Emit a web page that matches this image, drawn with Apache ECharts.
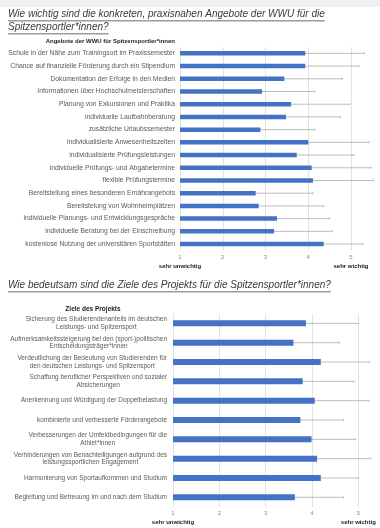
<!DOCTYPE html>
<html><head><meta charset="utf-8">
<script src="https://cdn.jsdelivr.net/npm/echarts@6/dist/echarts.min.js"></script>
<style>html,body{margin:0;padding:0;background:#fff}#c{width:380px;height:528px}</style>
</head><body><div id="c"></div>
<script>
// ---------- data ----------
const title1Lines = ['Wie wichtig sind die konkreten, praxisnahen Angebote der WWU für die', 'Spitzensportler*innen?'];
const header1 = 'Angebote der WWU für Spitzensportler*innen';
const categories1 = [
  'Schule in der Nähe zum Trainingsort im Praxissemester',
  'Chance auf finanzielle Förderung durch ein Stipendium',
  'Dokumentation der Erfolge in den Medien',
  'Informationen über Hochschulmeisterschaften',
  'Planung von Exkursionen und Praktika',
  'individuelle Laufbahnberatung',
  'zusätzliche Urlaubssemester',
  'individualisierte Anwesenheitszeiten',
  'individualisierte Prüfungsleistungen',
  'individuelle Prüfungs- und Abgabetermine',
  'flexible Prüfungstermine',
  'Bereitstellung eines besonderen Ernährangebots',
  'Bereitstelung von Wohnheimplätzen',
  'individuelle Planungs- und Entwicklungsgespräche',
  'individuelle Beratung bei der Einschreibung',
  'kostenlose Nutzung der universitären Sportstätten'
];
const means1 = [3.93, 3.93, 3.44, 2.92, 3.60, 3.48, 2.88, 4.00, 3.73, 4.08, 4.11, 2.77, 2.84, 3.27, 3.20, 4.36];
const sds1   = [1.38, 1.26, 1.36, 1.23, 1.37, 1.27, 1.27, 1.42, 1.34, 1.40, 1.42, 1.34, 1.52, 1.23, 1.37, 0.92];

const title2 = 'Wie bedeutsam sind die Ziele des Projekts für die Spitzensportler*innen?';
const header2 = 'Ziele des Projekts';
const categories2 = [
  'Sicherung des Studierendenanteils im deutschen\nLeistungs- und Spitzensport',
  'Aufmerksamkeitssteigerung bei den (sport-)politischen\nEntscheidungsträger*innen',
  'Verdeutlichung der Bedeutung von Studierenden für\nden deutschen Leistungs- und Spitzensport',
  'Schaffung beruflicher Perspektiven und sozialer\nAbsicherungen',
  'Anerkennung und Würdigung der Doppelbelastung',
  'kombinierte und verbesserte Förderangebote',
  'Verbesserungen der Umfeldbedingungen für die\nAthlet*innen',
  'Verhinderungen von Benachteiligungen aufgrund des\nleistungssportlichen Engagement',
  'Harmonierung von Sportaufkommen und Studium',
  'Begleitung und Betreuung im und nach dem Studium'
];
const means2 = [3.87, 3.60, 4.19, 3.80, 4.06, 3.75, 3.99, 4.11, 4.19, 3.63];
const sds2   = [1.13, 0.99, 1.05, 1.11, 1.17, 0.93, 0.95, 1.16, 0.81, 1.05];

const xMin = 1, xMax = 5, xInterval = 1;
const xEndLabels = {1: 'sehr unwichtig', 5: 'sehr wichtig'};

// ---------- helpers ----------
const FONT = '"Liberation Sans", Arial, sans-serif';
const cv = document.createElement('canvas').getContext('2d');
function measure(t, fs, style) { cv.font = (style || '') + ' ' + fs + 'px ' + FONT; return cv.measureText(t).width; }
const titleFs = 10 * 317 / measure(title1Lines[0], 10, 'italic');
const titleColor = '#3a3a3a';

function titleGraphic(text, x, y) {
  const w = measure(text, titleFs, 'italic');
  return [
    {type: 'text', left: x, top: y - titleFs * 0.6, style: {text: text, font: 'italic ' + titleFs + 'px ' + FONT, fill: titleColor}},
    {type: 'rect', shape: {x: x, y: y + titleFs * 0.55, width: w, height: 0.8}, style: {fill: titleColor}}
  ];
}

function xAxisCfg(gridIndex) {
  return {
    type: 'value', gridIndex: gridIndex, min: xMin, max: xMax, interval: xInterval,
    axisLine: {show: false}, axisTick: {show: false},
    splitLine: {show: true, lineStyle: {color: '#dcdcdc', width: 0.8}},
    axisLabel: {
      margin: 2,
      formatter: function (v) { let s = '{n|' + v + '}'; if (xEndLabels[v]) s += '\n{d|' + xEndLabels[v] + '}'; return s; },
      rich: {
        n: {fontSize: 6, color: '#8a8a8a', lineHeight: 9, fontFamily: FONT},
        d: {fontSize: 6, color: '#222', lineHeight: 9, fontWeight: 'bold', fontFamily: FONT}
      }
    }
  };
}

function errSeries(idx, means, sds, capH) {
  return {
    type: 'custom', xAxisIndex: idx, yAxisIndex: idx, z: 1, silent: true, clip: false,
    data: means.map((m, i) => [m, sds[i], i]),
    encode: {x: 0, y: 2},
    renderItem: function (params, api) {
      const m = api.value(0), s = api.value(1), c = api.value(2);
      const p1 = api.coord([m - s, c]), p2 = api.coord([m + s, c]);
      const st = {stroke: '#b4b4b4', lineWidth: 0.9};
      return {type: 'group', children: [
        {type: 'line', shape: {x1: p1[0], y1: p1[1], x2: p2[0], y2: p2[1]}, style: st},
        {type: 'line', shape: {x1: p2[0], y1: p2[1] - capH, x2: p2[0], y2: p2[1] + capH}, style: st}
      ]};
    }
  };
}

const chart = echarts.init(document.getElementById('c'), null, {renderer: 'canvas'});
chart.setOption({
  backgroundColor: '#ffffff',
  animation: false,
  grid: [
    {left: 180, right: 29, top: 47, height: 203.4},
    {left: 173, right: 21.7, top: 313.7, height: 193.3}
  ],
  xAxis: [xAxisCfg(0), xAxisCfg(1)],
  yAxis: [
    {type: 'category', gridIndex: 0, data: categories1, inverse: true,
      axisLine: {show: false}, axisTick: {show: false},
      axisLabel: {margin: 5, fontSize: 6.75, color: '#5a5a5a', fontFamily: FONT, interval: 0}},
    {type: 'category', gridIndex: 1, data: categories2, inverse: true,
      axisLine: {show: false}, axisTick: {show: false},
      axisLabel: {margin: 6, align: 'right', interval: 0,
        formatter: function (v) { return v.split('\n').map(l => '{c|' + l + '}').join('\n'); },
        rich: {c: {align: 'center', fontSize: 6.5, lineHeight: 7.7, color: '#5a5a5a', fontFamily: FONT}}}}
  ],
  series: [
    {type: 'bar', xAxisIndex: 0, yAxisIndex: 0, data: means1, barWidth: 4.5, z: 2,
      itemStyle: {color: '#4472C4'}},
    errSeries(0, means1, sds1, 1),
    {type: 'bar', xAxisIndex: 1, yAxisIndex: 1, data: means2, barWidth: 6, z: 2,
      itemStyle: {color: '#4472C4'}},
    errSeries(1, means2, sds2, 1)
  ],
  graphic: [
    {type: 'rect', shape: {x: 0, y: 0, width: 380, height: 7}, style: {fill: '#efefef'}},
    ...titleGraphic(title1Lines[0], 8, 15),
    ...titleGraphic(title1Lines[1], 8, 28),
    ...titleGraphic(title2, 8, 286),
    {type: 'text', left: 175 - measure(header1, 6, 'bold'), top: 38, style: {text: header1, font: 'bold 6px ' + FONT, fill: '#222'}},
    {type: 'text', left: 93 - measure(header2, 6.5, 'bold') / 2, top: 305.5, style: {text: header2, font: 'bold 6.5px ' + FONT, fill: '#222'}}
  ]
});
</script>
</body></html>
